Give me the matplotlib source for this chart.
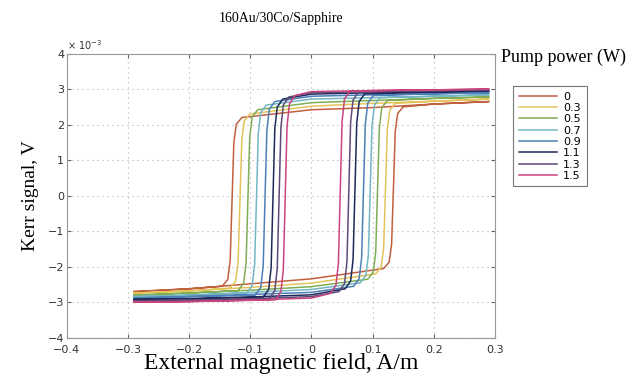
import matplotlib
matplotlib.use('Agg')
import matplotlib.pyplot as plt
import numpy as np

# pump power (W) and colours of each loop
power = ['0', '0.3', '0.5', '0.7', '0.9', '1.1', '1.3', '1.5']
colors = ['#c0603e', '#e2c45a', '#7fae55', '#74b6c4', '#4f7fb8', '#1e2a5a', '#5e4a78', '#c8447e']

# switching fields (A/m): descending sweep (left) and ascending sweep (right)
hc_down = [-0.130, -0.117, -0.104, -0.090, -0.076, -0.063, -0.053, -0.043]
hc_up = [0.134, 0.121, 0.108, 0.096, 0.085, 0.071, 0.061, 0.047]

# lower branch (x 1e-3 V) at x = -0.29, -0.2, -0.1, 0.0
lo_x = [-0.29, -0.2, -0.1, 0.0]
lower = [
    [-2.70, -2.62, -2.48, -2.34],
    [-2.74, -2.68, -2.58, -2.46],
    [-2.80, -2.74, -2.66, -2.56],
    [-2.84, -2.80, -2.72, -2.64],
    [-2.88, -2.84, -2.78, -2.72],
    [-2.92, -2.90, -2.85, -2.79],
    [-2.96, -2.94, -2.90, -2.84],
    [-3.00, -2.98, -2.94, -2.88],
]
# upper branch (x 1e-3 V) at x = 0.0, 0.1, 0.2, 0.29
up_x = [0.0, 0.1, 0.2, 0.29]
upper = [
    [2.42, 2.48, 2.58, 2.65],
    [2.52, 2.60, 2.66, 2.72],
    [2.62, 2.68, 2.74, 2.78],
    [2.72, 2.76, 2.80, 2.84],
    [2.80, 2.84, 2.87, 2.90],
    [2.86, 2.90, 2.92, 2.95],
    [2.90, 2.93, 2.96, 2.98],
    [2.93, 2.96, 2.98, 3.00],
]
# levels at the corners of the switching steps
up_corner_left = [2.20, 2.30, 2.42, 2.55, 2.65, 2.72, 2.78, 2.82]
lo_corner_left = [-2.55, -2.60, -2.67, -2.74, -2.80, -2.86, -2.90, -2.93]
lo_corner_right = [-2.05, -2.20, -2.35, -2.45, -2.55, -2.62, -2.70, -2.75]
up_corner_right = [2.50, 2.60, 2.68, 2.76, 2.82, 2.87, 2.92, 2.95]

# shape of a switching step (offset in field, fraction of the jump)
sw_dx = [-0.016, -0.007, -0.003, 0.003, 0.007, 0.016]
sw_w = [0.0, 0.04, 0.15, 0.85, 0.96, 1.0]

fig = plt.figure(figsize=(6.37, 3.83), dpi=100)
ax = fig.add_axes([0.105, 0.118, 0.672, 0.742])

for i in range(len(power)):
    # ascending sweep: lower branch -> jump at hc_up -> upper branch
    xa = list(lo_x)
    ya = list(lower[i])
    for dx, w in zip(sw_dx, sw_w):
        xa.append(hc_up[i] + dx)
        ya.append(lo_corner_right[i] + w * (up_corner_right[i] - lo_corner_right[i]))
    xa += up_x[2:]
    ya += upper[i][2:]
    # descending sweep: upper branch -> jump at hc_down -> lower branch
    xd = up_x[::-1]
    yd = upper[i][::-1]
    for dx, w in zip(sw_dx[::-1], sw_w[::-1]):
        xd.append(hc_down[i] + dx)
        yd.append(lo_corner_left[i] + w * (up_corner_left[i] - lo_corner_left[i]))
    xd += lo_x[1::-1]
    yd += lower[i][1::-1]
    ax.plot(xa + xd, ya + yd, color=colors[i], lw=1.1, label=power[i])

ax.set_xlim(-0.4, 0.3)
ax.set_ylim(-4, 4)
ax.set_xticks(np.arange(-0.4, 0.31, 0.1))
ax.set_xticklabels(['\u22120.4', '\u22120.3', '\u22120.2', '\u22120.1', '0', '0.1', '0.2', '0.3'])
ax.set_yticks(range(-4, 5))
ax.set_yticklabels(['\u22124', '\u22123', '\u22122', '\u22121', '0', '1', '2', '3', '4'])
ax.tick_params(direction='in', top=True, right=True, labelsize=8, colors='#666666',
               labelcolor='#333333', length=3, pad=2)
ax.tick_params(axis='x', pad=5)
for s in ax.spines.values():
    s.set_color('#999999')
ax.grid(True, linestyle=(0, (1, 3.5)), color='#b0b0b0', lw=0.8)

ax.text(0.0, 1.012, '\u00d7 10$^{-3}$', transform=ax.transAxes, fontsize=7, color='#333333')
ax.set_title('160Au/30Co/Sapphire', family='Liberation Serif', fontsize=10, pad=23)
ax.set_xlabel('External magnetic field, A/m', family='Liberation Serif', fontsize=17, labelpad=-1)
ax.set_ylabel('Kerr signal, V', family='Liberation Serif', fontsize=14, labelpad=6)

fig.text(0.787, 0.85, 'Pump power (W)', family='Liberation Serif', fontsize=13, va='center')
leg = fig.legend(loc='upper left', bbox_to_anchor=(0.797, 0.79), fontsize=8,
                 handlelength=3.4, labelspacing=0.12, borderpad=0.5, fancybox=False,
                 handletextpad=0.6)
leg.get_frame().set_edgecolor('#555555')
leg.get_frame().set_linewidth(0.8)

fig.savefig('out.png', dpi=100)
